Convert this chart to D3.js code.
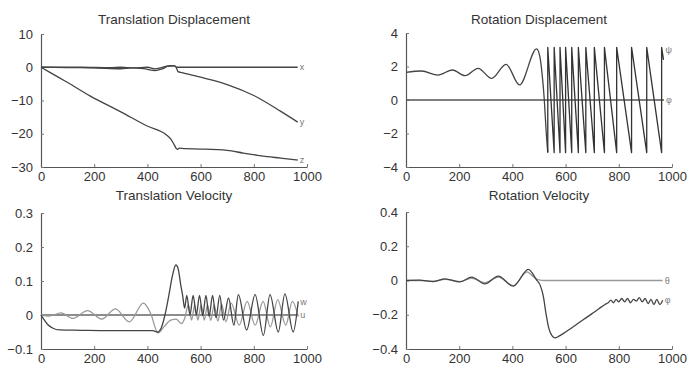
<!DOCTYPE html>
<html><head><meta charset="utf-8">
<script src="https://cdn.jsdelivr.net/npm/d3@7"></script>
<style>
body{margin:0;background:#fff}
svg{display:block}
text{font-family:"Liberation Sans",Arial,sans-serif}
</style>
</head><body>
<svg id="c" width="690" height="371"></svg>
<script>
// ---------- data ----------
const xTicks = [0, 200, 400, 600, 800, 1000];
const titles = ["Translation Displacement", "Rotation Displacement", "Translation Velocity", "Rotation Velocity"];
const transDispTicks = [10, 0, -10, -20, -30];
const rotDispTicks = [4, 2, 0, -2, -4];
const transVelTicks = [0.3, 0.2, 0.1, 0, -0.1];
const rotVelTicks = [0.4, 0.2, 0, -0.2, -0.4];

// Translation displacement (t, value)
const dispX = [[0,0],[150,0],[260,-0.15],[300,0],[350,-0.2],[400,0],[430,-0.5],[452,-0.1],[475,0.3],[500,0.4],[512,0],[965,0]];
const dispY = [[0,0],[100,-0.1],[200,-0.2],[300,-0.45],[340,-0.2],[385,-0.4],[430,-1.0],[455,-0.5],[480,0.4],[500,0.5],[508,0],[515,-1.3],[530,-1.6],[600,-3.0],[700,-5.2],[800,-8.5],[900,-13.2],[965,-16.5]];
const dispZ = [[0,0],[50,-2.3],[100,-4.6],[184,-8.6],[300,-13.4],[397,-17.6],[474,-20.5],[488,-21.6],[500,-23.2],[512,-24.7],[520,-24.3],[540,-24.5],[600,-24.6],[700,-25.0],[760,-25.8],[800,-26.3],[850,-26.9],[900,-27.3],[965,-27.9]];

// Rotation displacement
const rotPhi = [[0,0],[970,0]];
const rotPsiWave = [[0,1.65],[59,1.73],[120,1.49],[175,1.79],[222,1.45],[271,1.89],[322,1.29],[376,2.13],[427,0.9],[491,3.05],[503,2.6],[512,1.5],[520,0],[527,-1.9],[533,-3.14]];
const rotPsiWrap = [[533,-3.14],[533,3.14],[557,-3.14],[557,3.14],[579,-3.14],[579,3.14],[600,-3.14],[600,3.14],[623,-3.14],[623,3.14],[648,-3.14],[648,3.14],[676,-3.14],[676,3.14],[708,-3.14],[708,3.14],[746,-3.14],[746,3.14],[792,-3.14],[792,3.14],[848,-3.14],[848,3.14],[905,-3.14],[905,3.14],[961,-3.14],[961,3.14],[968,2.4]];

// Translation velocity
const velU = [[0,0],[967,0]];
const velW = [[0,0],[10,-0.012],[25,-0.028],[45,-0.039],[70,-0.044],[150,-0.045],[250,-0.046],[350,-0.046],[420,-0.046],[438,-0.05],[452,-0.038],[466,0],[480,0.055],[494,0.115],[507,0.147],[516,0.135],[525,0.09],[533,0.055],[540,0.02],[548,0.058],[560,0],[572,0.058],[584,0],[596,0.058],[608,-0.002],[620,0.058],[632,-0.004],[645,0.058],[658,-0.008],[672,0.058],[686,-0.015],[705,0.05],[725,-0.03],[742,0.06],[773,-0.044],[805,0.06],[836,-0.06],[861,0.06],[892,-0.05],[917,0.062],[948,-0.05],[967,0.04]];
const velV = [[0,0],[30,-0.003],[75,0.006],[120,-0.01],[175,0.013],[228,-0.012],[280,0.018],[332,-0.02],[385,0.035],[412,0.005],[440,-0.053],[462,-0.035],[488,-0.015],[508,-0.012],[528,-0.025],[540,-0.01],[554,0.03],[566,-0.015],[578,0.03],[590,-0.015],[602,0.03],[614,-0.015],[626,0.03],[638,-0.016],[651,0.03],[665,-0.018],[679,0.032],[695,-0.02],[715,0.035],[745,-0.03],[775,0.04],[805,-0.03],[835,0.04],[862,-0.035],[890,0.045],[920,-0.03],[945,0.04],[967,-0.005]];

// Rotation velocity
const rvTheta = [[0,0],[50,0],[103,-0.004],[147,0.006],[203,-0.006],[247,0.012],[297,-0.012],[347,0.02],[403,-0.03],[455,0.05],[480,0.02],[500,0.003],[520,0],[965,0]];
const rvPhi = [[0,0],[50,0.002],[103,-0.006],[147,0.01],[203,-0.008],[247,0.02],[297,-0.02],[347,0.025],[403,-0.033],[460,0.065],[490,0.005],[505,-0.03],[516,-0.09],[527,-0.2],[537,-0.28],[550,-0.325],[560,-0.335],[575,-0.325],[591,-0.31],[615,-0.285],[642,-0.255],[670,-0.225],[698,-0.195],[725,-0.165],[748,-0.14],[760,-0.13],[770,-0.115],[780,-0.13],[790,-0.11],[800,-0.125],[811,-0.105],[822,-0.125],[833,-0.105],[844,-0.13],[855,-0.11],[866,-0.12],[877,-0.1],[888,-0.125],[899,-0.105],[910,-0.135],[921,-0.11],[932,-0.14],[943,-0.11],[954,-0.14],[965,-0.115]];

// ---------- drawing ----------
const svg = d3.select("#c");
const fmt = d => d === 0 ? "0" : d3.format("~g")(d);
const smooth = d3.curveMonotoneX;

function panel(cfg) {
  const x = d3.scaleLinear().domain([0, 1000]).range([cfg.x0, cfg.x1]);
  const y = d3.scaleLinear().domain(d3.extent(cfg.yTicks)).range([cfg.y1, cfg.y0]);
  const g = svg.append("g");

  const ax = g.append("g").attr("transform", `translate(0,${cfg.y1})`)
    .call(d3.axisBottom(x).tickValues(xTicks).tickFormat(d3.format("d")).tickSizeInner(-3).tickSizeOuter(0).tickPadding(5));
  const ay = g.append("g").attr("transform", `translate(${cfg.x0},0)`)
    .call(d3.axisLeft(y).tickValues(cfg.yTicks).tickFormat(fmt).tickSizeInner(-3).tickSizeOuter(0).tickPadding(8));
  [ax, ay].forEach(a => {
    a.select(".domain").attr("stroke", "#555").attr("stroke-width", 1.2);
    a.selectAll(".tick line").attr("stroke", "#777");
    a.selectAll("text").attr("font-size", 13).style("fill", "#333")
      .attr("font-family", '"Liberation Sans", Arial, sans-serif');
  });

  g.append("text").attr("x", (cfg.x0 + cfg.x1) / 2).attr("y", cfg.titleY)
    .attr("text-anchor", "middle").attr("font-size", 13.5).style("fill", "#333").text(cfg.title);

  cfg.series.forEach(s => {
    const line = d3.line().x(d => x(d[0])).y(d => y(d[1])).curve(s.curve || smooth);
    g.append("path").datum(s.data).attr("d", line)
      .attr("fill", "none").attr("stroke", s.color).attr("stroke-width", s.width || 1.3)
      .attr("stroke-linejoin", "round");
    if (s.label) {
      const last = s.data[s.data.length - 1];
      g.append("text").attr("x", x(last[0]) + 2).attr("y", y(last[1]) + (s.dy || 0))
        .attr("dy", "0.35em").attr("font-size", 9).style("fill", "#777").text(s.label);
    }
  });
}

panel({x0: 41, x1: 307, y0: 34, y1: 167, yTicks: transDispTicks, title: titles[0], titleY: 24,
  series: [
    {data: dispX, color: "#444", label: "x"},
    {data: dispY, color: "#444", label: "y"},
    {data: dispZ, color: "#444", label: "z"}
  ]});

panel({x0: 406, x1: 672, y0: 33, y1: 167, yTicks: rotDispTicks, title: titles[1], titleY: 24,
  series: [
    {data: rotPhi, color: "#555", curve: d3.curveLinear, label: "φ"},
    {data: rotPsiWave, color: "#444"},
    {data: rotPsiWrap, color: "#333", curve: d3.curveLinear, label: "ψ", dy: -10}
  ]});

panel({x0: 41, x1: 307, y0: 213, y1: 349, yTicks: transVelTicks, title: titles[2], titleY: 200,
  series: [
    {data: velU, color: "#666", curve: d3.curveLinear, label: "u"},
    {data: velV, color: "#999"},
    {data: velW, color: "#444", label: "w"}
  ]});

panel({x0: 406, x1: 672, y0: 212, y1: 349, yTicks: rotVelTicks, title: titles[3], titleY: 200,
  series: [
    {data: rvTheta, color: "#999", label: "θ"},
    {data: rvPhi, color: "#444", label: "φ"}
  ]});
</script>
</body></html>
